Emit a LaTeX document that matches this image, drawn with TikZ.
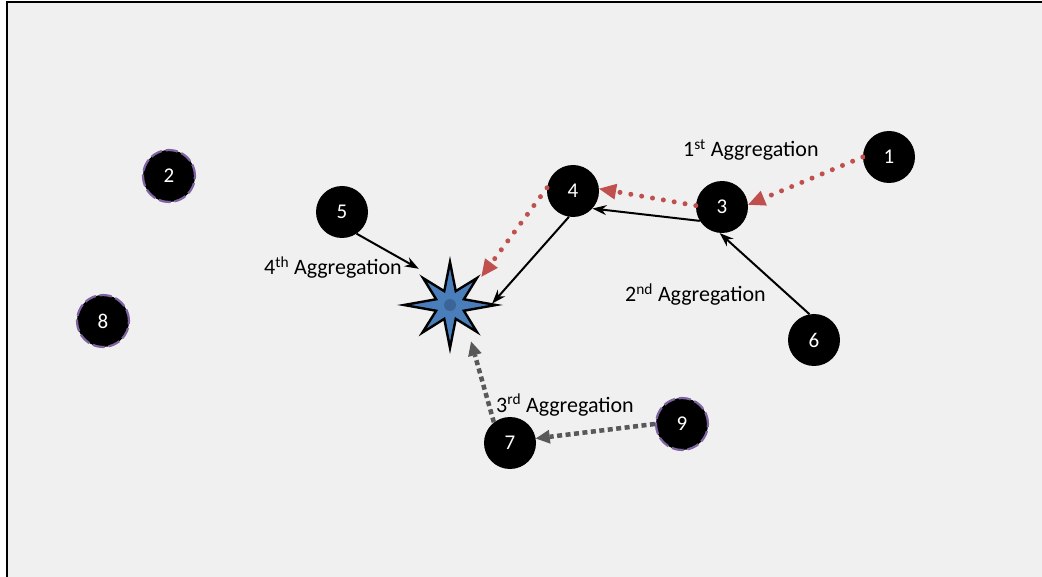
\documentclass[tikz,border=0pt]{standalone}
\usepackage{fontspec}
\setmainfont{Carlito}
\usetikzlibrary{arrows.meta,calc}
\definecolor{bgc}{HTML}{F0F0F0}
\definecolor{redd}{HTML}{C0504D}
\definecolor{grayd}{HTML}{595959}
\definecolor{purp}{HTML}{8064A2}
\definecolor{starb}{HTML}{4A7EBB}
\begin{document}
\begin{tikzpicture}[x=1pt,y=-1pt,
  sensor/.style={circle,fill=black,minimum size=52pt,inner sep=0pt,text=white,font=\fontsize{21}{24}\selectfont},
  idle/.style={sensor,draw=purp,line width=2.2pt,dash pattern=on 12pt off 4pt},
  lbl/.style={anchor=base west,font=\fontsize{22}{26}\selectfont,text=black,inner sep=0pt},
  reddot/.style={draw=redd,line width=5pt,line cap=round,dash pattern=on 0pt off 11pt,
     -{Triangle[length=17pt,width=16pt,line width=0pt,fill=redd]}},
  graydot/.style={draw=grayd,line width=4.5pt,dash pattern=on 5pt off 3.5pt,
     -{Triangle[length=14pt,width=14pt,line width=0pt,fill=grayd]}},
  blackarr/.style={draw=black,line width=2pt,-{Stealth[length=14pt,width=10pt]}},
  hub/.style={circle,minimum size=84pt,inner sep=0pt}
]
\useasboundingbox (0,0) rectangle (1042,577);
\fill[white] (0,0) rectangle (1042,577);
\fill[bgc] (7,2) rectangle (1042,577);
\draw[line width=2.8pt] (7,577) -- (7,2) -- (1042,2);

% nodes
\node[sensor] (n1) at (889,157) {1};
\node[idle]   (n2) at (169,176) {2};
\node[sensor] (n3) at (722,207) {3};
\node[sensor] (n4) at (573,191) {4};
\node[sensor] (n5) at (342,212) {5};
\node[sensor] (n6) at (814,340) {6};
\node[sensor] (n7) at (510,443) {7};
\node[idle]   (n8) at (103,321) {8};
\node[idle]   (n9) at (682,424) {9};
\node[hub]    (st) at (450,305) {};

% star (sink)
\begin{scope}[shift={(st.center)}]
\draw[fill=starb,line width=2.4pt,line join=miter]
  (0:46) -- (22.5:15) -- (45:38) -- (67.5:15) -- (90:43) -- (112.5:15)
  -- (135:39) -- (157.5:15) -- (180:46) -- (202.5:15) -- (225:38)
  -- (247.5:15) -- (270:43) -- (292.5:15) -- (315:38) -- (337.5:15) -- cycle;
\fill[starb!80!black] (0,0) circle (6pt);
\end{scope}

% connectors
\draw[reddot] (n1.180) -- (n3.5);
\draw[reddot] (n3.177) -- (n4.5);
\draw[reddot] (n4.173) -- (st.42);
\draw[blackarr] (n3.212) -- (n4.-42);
\draw[blackarr] (n4.-99) -- (st.2);
\draw[blackarr] (n6.100) -- (n3.-95);
\draw[blackarr,shorten >=6pt] (n5.-56) -- (st.128);
\draw[graydot] (n9.180) -- (n7.10);
\draw[graydot] (n7.128) -- (st.-60);

% labels
\node[lbl] (l1) at (683,157) {1\textsuperscript{st} Aggregation};
\node[lbl] (l2) at (625,302) {2\textsuperscript{nd} Aggregation};
\node[lbl] (l3) at (496,412) {3\textsuperscript{rd} Aggregation};
\node[lbl] (l4) at (264,275) {4\textsuperscript{th} Aggregation};
\end{tikzpicture}
\end{document}
